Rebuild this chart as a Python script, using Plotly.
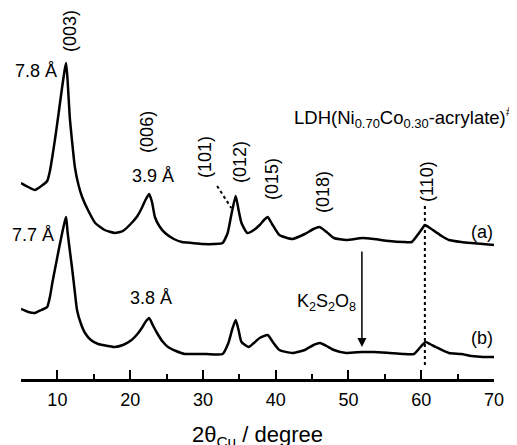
import plotly.graph_objects as go

two_theta_a = [5.0, 6.0, 6.9, 7.8, 8.6, 9.0, 9.3, 9.7, 10.1, 10.6, 11.0, 11.2, 11.4, 11.7, 12.0, 12.4, 12.9, 13.4, 14.2, 15.2,
               16.5, 17.9, 19.0, 20.2, 21.0, 21.6, 22.1, 22.6, 23.0, 23.4, 24.0, 24.8, 26.0, 27.1, 28.5, 30.0, 31.5, 32.7,
               33.4, 33.9, 34.5, 34.9, 35.3, 36.1, 37.0, 37.8, 38.4, 38.9, 39.5, 40.5, 42.3, 44.0, 45.2, 46.0, 47.0, 48.0,
               49.7, 51.9, 53.5, 55.6, 57.5, 58.7, 59.7, 60.2, 60.5, 61.0, 62.0, 62.8, 63.8, 65.5, 66.9, 68.5, 70.0]
intensity_a = [195, 191, 188, 192, 197, 208, 221, 240, 261, 288, 308, 315, 298, 261, 238, 211, 193, 181, 168, 155,
               148, 145, 147, 155, 162, 170, 178, 184, 176, 161, 152, 145, 139, 136, 135, 134, 134, 135,
               145, 163, 182, 168, 155, 145, 148, 153, 158, 161, 154, 143, 139, 144, 149, 151, 146, 140,
               138, 140, 139, 137, 136, 136, 145, 150, 153, 151, 146, 142, 138, 136, 135, 134, 133]

two_theta_b = [5.0, 6.0, 6.9, 7.8, 8.6, 9.0, 9.3, 9.7, 10.1, 10.6, 11.0, 11.2, 11.4, 11.7, 12.0, 12.4, 12.7, 13.2, 13.8, 14.6,
               15.6, 17.0, 17.9, 19.0, 20.2, 21.0, 21.6, 22.1, 22.6, 23.1, 23.7, 24.4, 25.2, 26.3, 27.5, 29.0, 30.5, 32.7,
               33.5, 34.0, 34.5, 34.9, 35.3, 36.3, 37.0, 37.8, 38.9, 39.6, 40.5, 42.3, 44.0, 45.2, 46.1, 47.0, 48.0, 49.7,
               51.9, 53.5, 55.6, 57.5, 59.0, 59.9, 60.6, 61.2, 62.0, 63.8, 65.5, 66.9, 68.5, 70.0]
intensity_b = [69, 66, 65, 68, 71, 82, 95, 110, 125, 143, 156, 161, 146, 128, 111, 86, 68, 55, 45, 38,
               34, 32, 31, 33, 38, 44, 50, 56, 60, 53, 45, 37, 31, 27, 24, 24, 24, 24,
               35, 48, 58, 48, 36, 31, 35, 40, 43, 36, 28, 25, 28, 33, 35, 32, 28, 25,
               26, 26, 25, 24, 24, 31, 36, 34, 31, 25, 24, 22, 21, 21]

x_ticks = [10, 20, 30, 40, 50, 60, 70]

FONT = "Liberation Sans, Arial, sans-serif"

fig = go.Figure()
fig.add_trace(go.Scatter(x=two_theta_a, y=intensity_a, mode="lines",
                         line=dict(color="black", width=2.5, shape="spline", smoothing=0.5), showlegend=False))
fig.add_trace(go.Scatter(x=two_theta_b, y=intensity_b, mode="lines",
                         line=dict(color="black", width=2.5, shape="spline", smoothing=0.5), showlegend=False))

# dotted guide lines
fig.add_shape(type="line", x0=31.95, y0=192, x1=33.9, y1=170,
              line=dict(color="black", width=2, dash="dot"))
fig.add_shape(type="line", x0=60.5, y0=172, x1=60.5, y1=11,
              line=dict(color="black", width=2, dash="dot"))

def txt(x, y, s, size=18, angle=0, xanchor="center"):
    fig.add_annotation(x=x, y=y, xref="x", yref="y", text=s, showarrow=False,
                       textangle=angle, xanchor=xanchor, yanchor="middle",
                       font=dict(family=FONT, size=size, color="black"))

txt(11.74, 347, "(003)", angle=-90)
txt(10.2, 307, "7.8 Å", xanchor="right")
txt(22.3, 246, "(006)", angle=-90)
txt(23.1, 202, "3.9 Å")
txt(30.3, 221, "(101)", angle=-90)
txt(35.1, 216, "(012)", angle=-90)
txt(39.5, 199, "(015)", angle=-90)
txt(46.5, 186, "(018)", angle=-90)
txt(60.8, 196, "(110)", angle=-90)
txt(57.7, 261, "LDH(Ni<sub>0.70</sub>Co<sub>0.30</sub>-acrylate)<sup>#</sup>", size=18.5)
txt(68.3, 146, "(a)")
txt(68.3, 40, "(b)")
txt(9.8, 143, "7.7 Å", xanchor="right")
txt(22.9, 80, "3.8 Å")
txt(47.0, 76, "K<sub>2</sub>S<sub>2</sub>O<sub>8</sub>")

fig.add_annotation(x=51.85, y=31, ax=51.85, ay=128, xref="x", yref="y", axref="x", ayref="y",
                   text="", showarrow=True, arrowhead=2, arrowsize=1.2, arrowwidth=1.5, arrowcolor="black")

# axis title
fig.add_annotation(x=0.5, y=-0.154, xref="paper", yref="paper", text="2θ<sub>Cu</sub> / degree",
                   showarrow=False, xanchor="center", yanchor="middle",
                   font=dict(family=FONT, size=22, color="black"))

fig.update_layout(
    width=517, height=445, autosize=False,
    margin=dict(l=13, r=31, t=0, b=74, pad=0),
    paper_bgcolor="white", plot_bgcolor="white",
    xaxis=dict(range=[5, 70], tickvals=x_ticks, ticks="inside", ticklen=9, tickwidth=2,
               tickcolor="black", showline=True, linecolor="black", linewidth=2.5,
               showgrid=False, zeroline=False, automargin=False, ticklabelstandoff=3,
               minor=dict(dtick=5, tick0=0, ticks="inside", ticklen=5, tickwidth=2, tickcolor="black"),
               tickfont=dict(family=FONT, size=18, color="black")),
    yaxis=dict(range=[-1, 370], visible=False, automargin=False),
)

fig.write_html("out.html")
